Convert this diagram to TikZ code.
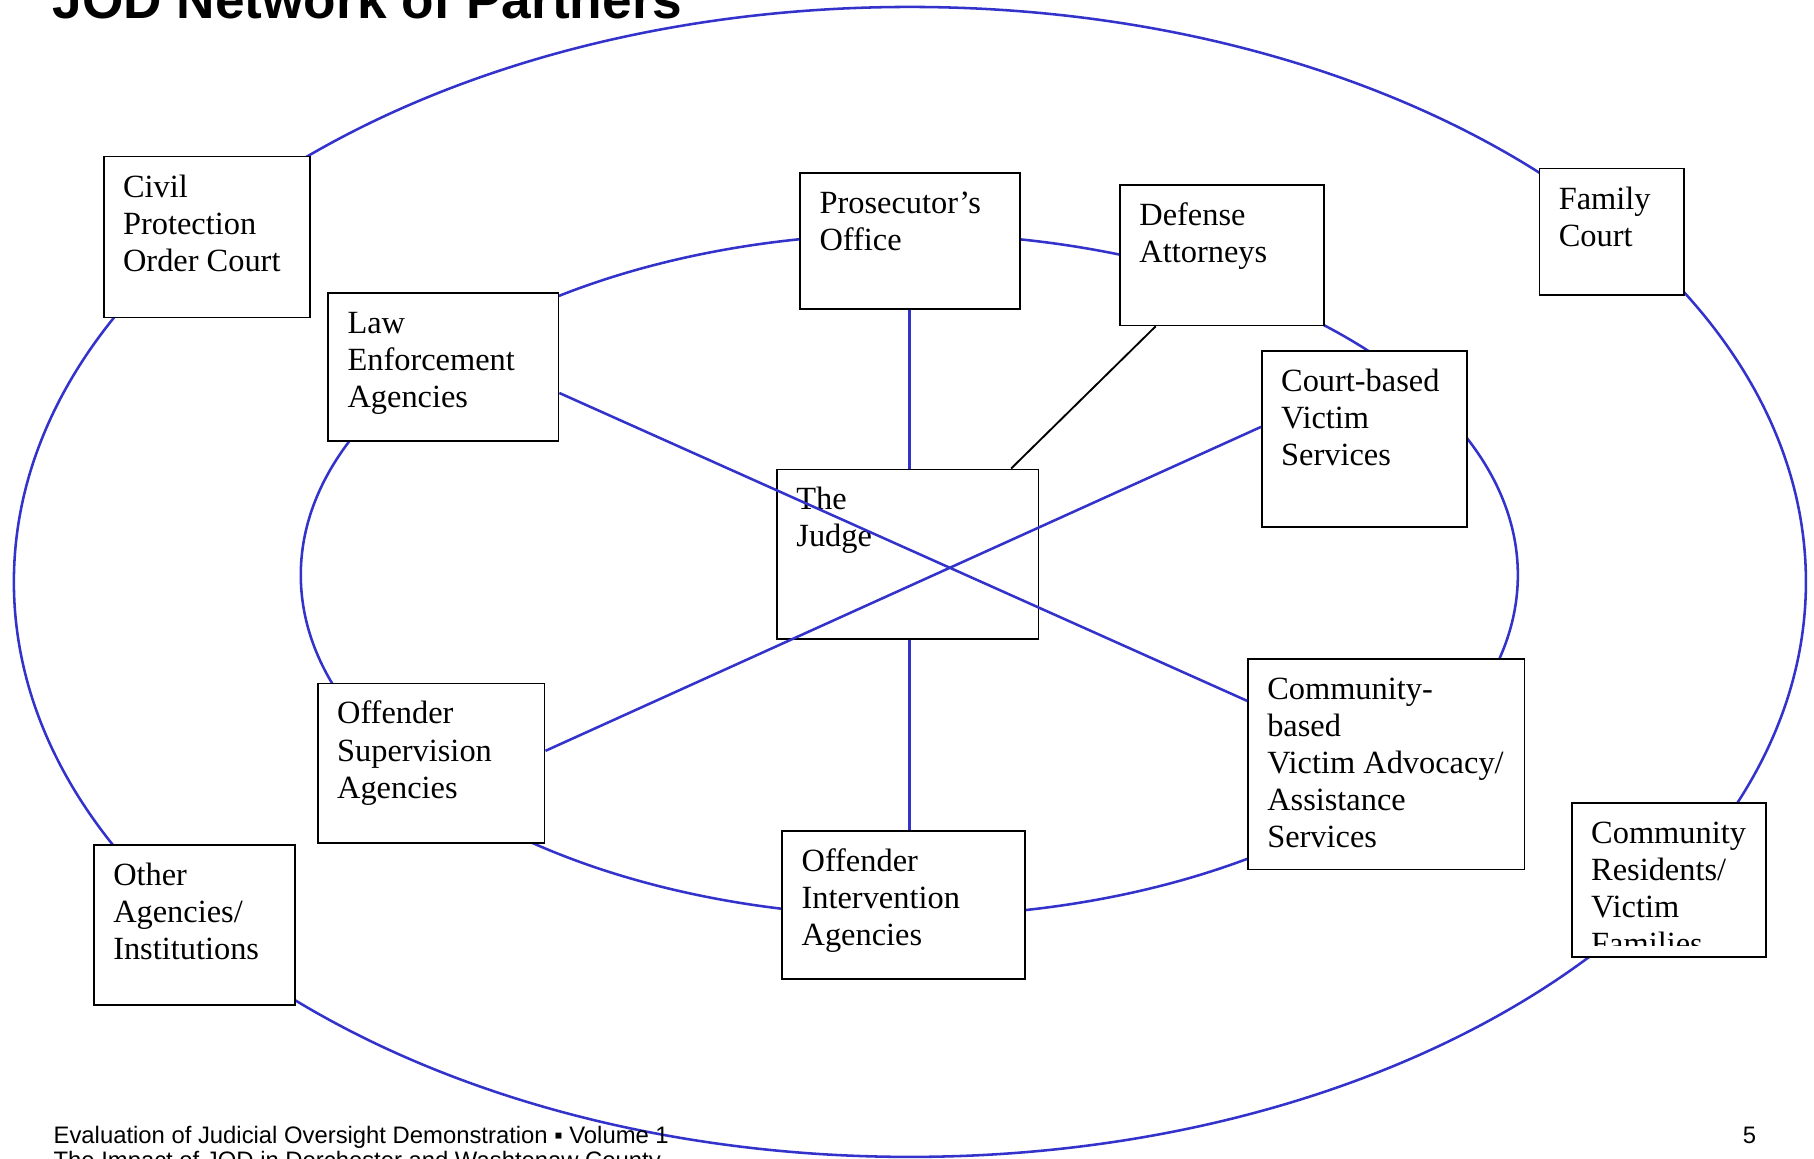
\documentclass[tikz,border=0pt]{standalone}
\usepackage{fontspec}
\setmainfont{Liberation Serif}
\newfontfamily\sansf{Liberation Sans}
\usetikzlibrary{calc}
\definecolor{linkblue}{RGB}{51,51,204}
\pgfdeclarelayer{back}
\pgfsetlayers{back,main}
\begin{document}
\begin{tikzpicture}[x=0.5pt,y=-0.5pt,
  partner/.style={draw=black, line width=0.75pt, fill=white, inner sep=0pt, anchor=north west},
  boxtext/.style={anchor=north west, inner sep=0pt, align=left, font=\fontsize{14}{16}\selectfont},
  link/.style={draw=linkblue, line width=1.1pt},
  tie/.style={draw=black, line width=0.8pt},
  foot/.style={anchor=base west, inner sep=0pt, font=\sansf\fontsize{10.3}{12.5}\selectfont}]
\useasboundingbox (0,0) rectangle (1568,1001);
\clip (0,0) rectangle (1568,1001);

% boxes
\node[partner, minimum width=89.25pt, minimum height=69.5pt] (civil) at (89,134.6) {};
\node[partner, minimum width=99.5pt, minimum height=64pt] (law) at (283,252.7) {};
\node[partner, minimum width=95pt, minimum height=58.7pt] (pros) at (691,149) {};
\node[partner, minimum width=88.25pt, minimum height=60.75pt] (def) at (967.5,159) {};
\node[partner, minimum width=62.5pt, minimum height=54.5pt] (fam) at (1330,145) {};
\node[partner, minimum width=88.5pt, minimum height=76.25pt] (court) at (1090,302.5) {};
\node[partner, minimum width=113pt, minimum height=73.25pt] (judge) at (671,405) {};
\node[partner, minimum width=98pt, minimum height=69pt] (sup) at (274,590) {};
\node[partner, minimum width=86.75pt, minimum height=69.2pt] (other) at (80.5,729.6) {};
\node[partner, minimum width=104.75pt, minimum height=64.1pt] (inter) at (675.5,717.5) {};
\node[partner, minimum width=119.5pt, minimum height=91pt] (comm) at (1078,568.8) {};
\node[partner, minimum width=84pt, minimum height=66.7pt] (res) at (1358,693.2) {};

% texts
\node[boxtext] (civilt) at ($(civil.north west)+(17,13)$) {\strut Civil\\Protection\\Order Court};
\node[boxtext] (lawt) at ($(law.north west)+(17,13)$) {\strut Law\\Enforcement\\Agencies};
\node[boxtext] (prost) at ($(pros.north west)+(17,13)$) {\strut Prosecutor’s\\Office};
\node[boxtext] (deft) at ($(def.north west)+(17,13)$) {\strut Defense\\Attorneys};
\node[boxtext] (famt) at ($(fam.north west)+(17,13)$) {\strut Family\\Court};
\node[boxtext] (courtt) at ($(court.north west)+(17,13)$) {\strut Court-based\\Victim\\Services};
\node[boxtext] (judget) at ($(judge.north west)+(17,13)$) {\strut The\\Judge};
\node[boxtext] (supt) at ($(sup.north west)+(17,13)$) {\strut Offender\\Supervision\\Agencies};
\node[boxtext] (othert) at ($(other.north west)+(17,13)$) {\strut Other\\Agencies/\\Institutions};
\node[boxtext] (intert) at ($(inter.north west)+(17,13)$) {\strut Offender\\Intervention\\Agencies};
\node[boxtext] (commt) at ($(comm.north west)+(17,13)$) {\strut Community-\\based\\Victim Advocacy/\\Assistance\\Services};
\begin{scope}
  \clip (1358,693.2) rectangle (1526,817);
  \node[boxtext] (rest) at ($(res.north west)+(17,13)$) {\strut Community\\Residents/\\Victim\\Families};
\end{scope}

% rings and links under the boxes
\begin{pgfonlayer}{back}
  \draw[link] (786.5,503) ellipse [x radius=387.25pt, y radius=248.5pt];
  \draw[link] (786,497) ellipse [x radius=263pt, y radius=147.5pt];
  \draw[link] ($(pros.south west)+(95,0)$) -- ($(inter.north west)+(110.5,0)$);
  \draw[tie] ($(def.south west)+(31.5,0)$) -- ($(judge.north west)+(203,0)$);
\end{pgfonlayer}

% crossing links over the judge box
\draw[link] ($(law.north east)+(0,87)$) -- ($(comm.north west)+(0,37)$);
\draw[link] ($(court.north west)+(0,66.5)$) -- ($(sup.north east)+(0,59)$);

% title and footer
\node[anchor=base west, inner sep=0pt, font=\sansf\bfseries\fontsize{23}{27}\selectfont] (title) at (45,16) {JOD Network of Partners};
\node[foot] (foot1) at (46,988) {Evaluation of Judicial Oversight Demonstration ▪ Volume 1};
\node[foot] (foot2) at (46,1010) {The Impact of JOD in Dorchester and Washtenaw County};
\node[foot] (page) at (1506,988) {5};
\end{tikzpicture}
\end{document}
